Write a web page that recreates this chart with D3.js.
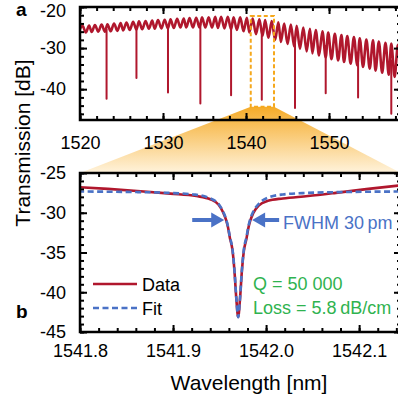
<!DOCTYPE html>
<html>
<head>
<meta charset="utf-8">
<script src="https://cdn.jsdelivr.net/npm/d3@7"></script>
<style>
  body { margin: 0; background: #fff; }
  text { font-family: "Liberation Sans", Arial, sans-serif; }
</style>
</head>
<body>
<svg id="chart" width="398" height="401"></svg>
<script>
///////////////    Data    ////////////////

// Panel a: fringe maxima of the spectrum [wavelength nm, dB]
let fringePeaks = [
  [1520.3, -24.6], [1521.1, -24.5], [1521.8, -24.4], [1522.6, -24.3], [1523.3, -24.2],
  [1524.1, -24.0], [1524.9, -23.9], [1525.6, -23.8], [1526.4, -23.6], [1527.1, -23.5],
  [1527.9, -23.4], [1528.7, -23.3], [1529.4, -23.2], [1530.2, -23.1], [1530.9, -23.0],
  [1531.7, -22.9], [1532.5, -22.8], [1533.2, -22.7], [1534.0, -22.6], [1534.7, -22.5],
  [1535.5, -22.5], [1536.3, -22.4], [1537.0, -22.4], [1537.8, -22.4], [1538.5, -22.5],
  [1539.3, -22.5], [1540.1, -22.6], [1540.8, -22.8], [1541.6, -23.0], [1542.3, -23.2],
  [1543.1, -23.4], [1543.9, -23.7], [1544.6, -24.0], [1545.4, -24.3], [1546.1, -24.6],
  [1546.9, -25.0], [1547.7, -25.3], [1548.4, -25.6], [1549.2, -25.9], [1549.9, -26.2],
  [1550.7, -26.5], [1551.5, -26.8], [1552.2, -27.1], [1553.0, -27.3], [1553.7, -27.6],
  [1554.5, -27.9], [1555.3, -28.1], [1556.0, -28.4], [1556.8, -28.7], [1557.5, -28.9],
  [1558.3, -29.2],
];

// Panel a: fringe minima [wavelength nm, dB]
let fringeTroughs = [
  [1519.9, -25.8], [1520.7, -26.2], [1521.4, -26.1], [1522.2, -26.0], [1523.0, -26.0],
  [1523.7, -25.9], [1524.5, -25.8], [1525.2, -25.7], [1526.0, -25.6], [1526.8, -25.5],
  [1527.5, -25.4], [1528.3, -25.3], [1529.0, -25.3], [1529.8, -25.2], [1530.6, -25.2],
  [1531.3, -25.1], [1532.1, -25.0], [1532.8, -25.0], [1533.6, -25.0], [1534.4, -25.0],
  [1535.1, -25.0], [1535.9, -25.0], [1536.6, -25.1], [1537.4, -25.2], [1538.2, -25.4],
  [1538.9, -25.6], [1539.7, -25.9], [1540.4, -26.2], [1541.2, -26.6], [1542.0, -27.0],
  [1542.7, -27.5], [1543.5, -28.0], [1544.2, -28.5], [1545.0, -29.0], [1545.8, -29.6],
  [1546.5, -30.2], [1547.3, -30.8], [1548.0, -31.3], [1548.8, -31.8], [1549.6, -32.3],
  [1550.3, -32.7], [1551.1, -33.0], [1551.8, -33.4], [1552.6, -33.8], [1553.4, -34.2],
  [1554.1, -34.6], [1554.9, -35.0], [1555.6, -35.5], [1556.4, -36.0], [1557.2, -36.5],
  [1557.9, -37.0], [1558.7, -37.3],
];

// Panel a: ring resonances [wavelength, level above dip, dip bottom]
let dips = [
  [1523.2, -25.5, -42.3], [1526.8, -25.0, -37.3], [1530.6, -24.6, -40.8],
  [1534.5, -24.2, -43.5], [1538.2, -24.4, -41.5], [1541.9, -25.5, -42.6],
  [1545.9, -27.5, -44.6], [1549.6, -29.5, -41.0], [1553.5, -31.0, -42.0],
  [1557.5, -33.0, -46.0],
];

// Panel a: zoomed window [x0, x1, y top, y bottom]
let zoomWindow = [1540.57, 1543.37, -22.2, -44.3];

// Panel b: measured resonance [wavelength nm, dB]
let dataB = [
  [1541.800, -26.8], [1541.830, -27.0], [1541.865, -27.3], [1541.897, -27.6],
  [1541.925, -27.9], [1541.940, -28.3], [1541.949, -29.0], [1541.954, -30.0],
  [1541.957, -30.9], [1541.959, -31.8], [1541.961, -33.1], [1541.964, -34.8],
  [1541.966, -37.3], [1541.968, -40.8], [1541.970, -43.1], [1541.972, -40.8],
  [1541.974, -37.3], [1541.976, -34.9], [1541.979, -33.2], [1541.981, -31.9],
  [1541.983, -31.0], [1541.986, -30.1], [1541.992, -29.1], [1542.002, -28.5],
  [1542.018, -28.2], [1542.045, -27.9], [1542.075, -27.5], [1542.110, -27.0],
  [1542.148, -26.5],
];

// Panel b: Lorentzian fit [wavelength nm, dB]
let fitB = [
  [1541.798, -27.33], [1541.862, -27.40], [1541.895, -27.5], [1541.922, -27.7],
  [1541.938, -28.1], [1541.949, -28.9], [1541.954, -29.9], [1541.957, -30.8],
  [1541.959, -31.7], [1541.961, -33.0], [1541.964, -34.7], [1541.966, -37.2],
  [1541.968, -40.7], [1541.970, -43.15], [1541.972, -40.7], [1541.974, -37.2],
  [1541.976, -34.7], [1541.979, -33.0], [1541.981, -31.7], [1541.983, -30.8],
  [1541.986, -29.9], [1541.992, -28.9], [1542.002, -28.1], [1542.018, -27.7],
  [1542.045, -27.5], [1542.078, -27.4], [1542.148, -27.33],
];

// Resonance centre and FWHM (nm) for the arrows
let resCenter = 1541.970;
let fwhm = 0.030;

// Tick values
let ticksAX = [1520, 1530, 1540, 1550];
let minorAX = d3.range(1520, 1560, 2);
let ticksAY = [-20, -30, -40];
let minorAY = d3.range(-46, -19, 2);
let ticksBX = [1541.8, 1541.9, 1542.0, 1542.1];
let minorBX = d3.range(0, 18).map((i) => +(1541.8 + i * 0.02).toFixed(2));
let ticksBY = [-25, -30, -35, -40, -45];
let minorBY = d3.range(-45, -24, 1);

/////////////////    Setup    ///////////////////

const red = "#b0172d";
const blue = "#4a72c6";
const green = "#2fb34f";

let svg = d3.select("#chart");

let xA = d3.scaleLinear().domain([1520, 1558.67]).range([80, 401]);
let yA = d3.scaleLinear().domain([-47.5, -20]).range([120, 7]);
let xB = d3.scaleLinear().domain([1541.8, 1542.145]).range([80, 401]);
let yB = d3.scaleLinear().domain([-45, -25]).range([332, 173]);

let defs = svg.append("defs");

let grad = defs.append("linearGradient")
  .attr("id", "zoomFill")
  .attr("x1", 0).attr("y1", 0).attr("x2", 0).attr("y2", 1);
grad.append("stop").attr("offset", "0%").attr("stop-color", "#f5ab28");
grad.append("stop").attr("offset", "100%").attr("stop-color", "#fff3dc");

function addClip(id, x, y) {
  defs.append("clipPath").attr("id", id)
    .append("rect")
    .attr("x", x.range()[0]).attr("y", y.range()[1])
    .attr("width", x.range()[1] - x.range()[0])
    .attr("height", y.range()[0] - y.range()[1]);
}
addClip("clipA", xA, yA);
addClip("clipB", xB, yB);

/////////////////    Zoom trapezoid (behind everything)    ///////////////////

svg.append("path")
  .attr("d", d3.line()([
    [xA(zoomWindow[0]), yA(zoomWindow[3])],
    [xA(zoomWindow[1]), yA(zoomWindow[3])],
    [xB.range()[1], yB.range()[1]],
    [xB.range()[0], yB.range()[1]],
  ]) + "Z")
  .attr("fill", "url(#zoomFill)");

/////////////////    Frames and ticks    ///////////////////

// draws a boxed frame with inward ticks on all four sides
function drawFrame(x, y, xMajor, xMinor, yMajor, yMinor, fmtX, padX) {
  let left = x.range()[0], right = x.range()[1];
  let bottom = y.range()[0], top = y.range()[1];
  let g = svg.append("g").attr("class", "frame");

  let axes = [
    [d3.axisBottom(x).tickValues(xMinor).tickSize(-4).tickFormat(""), `translate(0,${bottom})`],
    [d3.axisTop(x).tickValues(xMinor).tickSize(-4).tickFormat(""), `translate(0,${top})`],
    [d3.axisTop(x).tickValues(xMajor).tickSize(-7).tickFormat(""), `translate(0,${top})`],
    [d3.axisLeft(y).tickValues(yMinor).tickSize(-4).tickFormat(""), `translate(${left},0)`],
    [d3.axisRight(y).tickValues(yMinor).tickSize(-4).tickFormat(""), `translate(${right},0)`],
    [d3.axisRight(y).tickValues(yMajor).tickSize(-7).tickFormat(""), `translate(${right},0)`],
    [d3.axisBottom(x).tickValues(xMajor).tickSize(-7).tickPadding(padX).tickFormat(fmtX), `translate(0,${bottom})`],
    [d3.axisLeft(y).tickValues(yMajor).tickSize(-7).tickPadding(14).tickFormat((d) => String(d)), `translate(${left},0)`],
  ];
  axes.forEach(([axis, tr]) => {
    let a = g.append("g").attr("transform", tr).call(axis);
    a.select(".domain").remove();
    a.selectAll("line").attr("stroke", "#000").attr("stroke-width", 2);
    a.selectAll("text")
      .attr("fill", "#000")
      .style("font-size", "18px")
      .style("font-family", '"Liberation Sans", Arial, sans-serif');
  });

  g.append("rect")
    .attr("x", left).attr("y", top)
    .attr("width", right - left).attr("height", bottom - top)
    .attr("fill", "none")
    .attr("stroke", "#000")
    .attr("stroke-width", 2.5);
  return g;
}

/////////////////    Panel a    ///////////////////

let trace = fringePeaks.concat(fringeTroughs).sort((a, b) => a[0] - b[0]);

let plotA = svg.append("g").attr("clip-path", "url(#clipA)");

plotA.append("path")
  .datum(trace)
  .attr("fill", "none")
  .attr("stroke", red)
  .attr("stroke-width", 2.6)
  .attr("stroke-linejoin", "round")
  .attr("d", d3.line().x((d) => xA(d[0])).y((d) => yA(d[1])).curve(d3.curveMonotoneX));

plotA.selectAll(".dip")
  .data(dips)
  .enter()
  .append("line")
  .attr("class", "dip")
  .attr("x1", (d) => xA(d[0])).attr("x2", (d) => xA(d[0]))
  .attr("y1", (d) => yA(d[1])).attr("y2", (d) => yA(d[2]))
  .attr("stroke", red)
  .attr("stroke-width", 2)
  .attr("stroke-linecap", "round");

// dashed window marking the zoomed resonance
svg.append("rect")
  .attr("x", xA(zoomWindow[0]))
  .attr("y", yA(zoomWindow[2]))
  .attr("width", xA(zoomWindow[1]) - xA(zoomWindow[0]))
  .attr("height", yA(zoomWindow[3]) - yA(zoomWindow[2]))
  .attr("fill", "none")
  .attr("stroke", "#f5a81c")
  .attr("stroke-width", 2)
  .attr("stroke-dasharray", "4,2.5");

let frameA = drawFrame(xA, yA, ticksAX, minorAX, ticksAY, minorAY, d3.format("d"), 16);

// the top label sits against the page edge, nudge it down a little
frameA.selectAll("text")
  .filter((d) => d === -20)
  .attr("dy", "0.5em");

/////////////////    Panel b    ///////////////////

let plotB = svg.append("g").attr("clip-path", "url(#clipB)");

let lineB = d3.line().x((d) => xB(d[0])).y((d) => yB(d[1])).curve(d3.curveMonotoneX);

plotB.append("path")
  .datum(dataB)
  .attr("fill", "none")
  .attr("stroke", red)
  .attr("stroke-width", 2.6)
  .attr("d", lineB);

plotB.append("path")
  .datum(fitB)
  .attr("fill", "none")
  .attr("stroke", blue)
  .attr("stroke-width", 2.6)
  .attr("stroke-dasharray", "6,3.5")
  .attr("d", lineB);

drawFrame(xB, yB, ticksBX, minorBX, ticksBY, minorBY, d3.format(".1f"), 12.5);

// FWHM arrows
let arrowY = 220;
function arrow(tipX, dir, len) {
  // dir = +1 points right, -1 points left
  let head = 13, half = 7.5, shaft = 2;
  let pts = [
    [tipX, arrowY],
    [tipX - dir * head, arrowY - half],
    [tipX - dir * head, arrowY - shaft],
    [tipX - dir * len, arrowY - shaft],
    [tipX - dir * len, arrowY + shaft],
    [tipX - dir * head, arrowY + shaft],
    [tipX - dir * head, arrowY + half],
  ];
  svg.append("path").attr("d", d3.line()(pts) + "Z").attr("fill", blue);
}
arrow(xB(resCenter - fwhm / 2), 1, 32);
arrow(xB(resCenter + fwhm / 2), -1, 27);

svg.append("text")
  .attr("x", 283).attr("y", 228.5)
  .attr("fill", blue)
  .style("font-size", "18px")
  .text("FWHM 30\u2009pm");

svg.append("text")
  .attr("x", 253).attr("y", 289.5)
  .attr("fill", green)
  .style("font-size", "18px")
  .text("Q = 50 000");

svg.append("text")
  .attr("x", 253).attr("y", 313.5)
  .attr("fill", green)
  .style("font-size", "18px")
  .text("Loss = 5.8\u2009dB/cm");

// legend
let legend = svg.append("g");
legend.append("line")
  .attr("x1", 93).attr("x2", 137).attr("y1", 284).attr("y2", 284)
  .attr("stroke", red).attr("stroke-width", 2.6);
legend.append("line")
  .attr("x1", 93).attr("x2", 137).attr("y1", 308).attr("y2", 308)
  .attr("stroke", blue).attr("stroke-width", 2.6)
  .attr("stroke-dasharray", "6,3.5");
legend.append("text").attr("x", 142).attr("y", 290.5).style("font-size", "18px").text("Data");
legend.append("text").attr("x", 142).attr("y", 314.5).style("font-size", "18px").text("Fit");

/////////////////    Labels    ///////////////////

svg.append("text")
  .attr("x", 16).attr("y", 16)
  .style("font-size", "19px").style("font-weight", "bold")
  .text("a");

svg.append("text")
  .attr("x", 16).attr("y", 318)
  .style("font-size", "19px").style("font-weight", "bold")
  .text("b");

svg.append("text")
  .attr("transform", "translate(30,143) rotate(-90)")
  .attr("text-anchor", "middle")
  .style("font-size", "21px")
  .text("Transmission [dB]");

svg.append("text")
  .attr("x", 249).attr("y", 390)
  .attr("text-anchor", "middle")
  .style("font-size", "21px")
  .text("Wavelength [nm]");
</script>
</body>
</html>
